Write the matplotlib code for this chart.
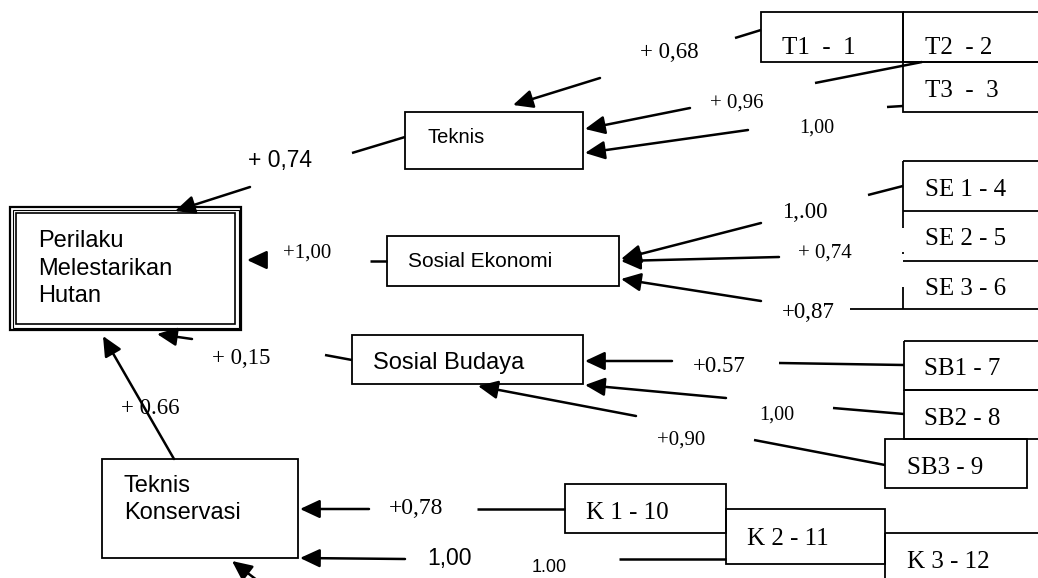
import matplotlib
matplotlib.use("Agg")
import matplotlib.pyplot as plt
from matplotlib.patches import Rectangle

SANS = "Liberation Sans"
SERIF = "Liberation Serif"

# ---- diagram text / values ----
main_lines = ["Perilaku", "Melestarikan", "Hutan"]
latent_names = ["Teknis", "Sosial Ekonomi", "Sosial Budaya", "Teknis\nKonservasi"]
latent_coefs = ["+ 0,74", "+1,00", "+ 0,15", "+ 0.66"]

teknis_items = ["T1  -  1", "T2  - 2", "T3  -  3"]
teknis_loads = ["+ 0,68", "+ 0,96", "1,00"]
sosek_items = ["SE 1 - 4", "SE 2 - 5", "SE 3 - 6"]
sosek_loads = ["1,.00", "+ 0,74", "+0,87"]
sosbud_items = ["SB1 - 7", "SB2 - 8", "SB3 - 9"]
sosbud_loads = ["+0.57", "1,00", "+0,90"]
konserv_items = ["K 1 - 10", "K 2 - 11", "K 3 - 12"]
konserv_loads = ["+0,78", "1,00", "1.00"]

# ---- layout (pixel coords, y down) ----
W, H = 1038, 578
RX = 1060  # boxes running off the right edge

latent_boxes = [(405, 112, 583, 169), (387, 236, 619, 286),
                (352, 335, 583, 384), (102, 459, 298, 558)]
latent_text = [(427, [143], 14.5), (408, [267], 15),
               (373, [369], 17), (124, [492, 519], 17)]
latent_links = [((352, 153), (405, 137)), ((370, 261), (387, 261)),
                ((325, 355), (352, 360)), None]
latent_arrows = [((250, 187), (175, 211)), ((262, 260), (247, 260)),
                 ((192, 339), (157, 334)), ((174, 459), (103, 336))]
latent_coef_pos = [(248, 160, SANS, 16.5), (283, 253, SERIF, 15),
                   (212, 359, SERIF, 16.5), (121, 408, SERIF, 16.5)]

item_boxes = {
    "teknis": [(761, 12, 903, 62), (903, 12, RX, 62), (903, 62, RX, 112)],
    "sosbud": [(904, 341, RX, 390), (904, 390, RX, 439), (885, 439, 1027, 488)],
    "konserv": [(565, 484, 726, 533), (726, 509, 885, 564), (885, 533, RX, 600)],
}
item_text = {
    "teknis": [(782, 54), (925, 54), (925, 97)],
    "sosek": [(925, 196), (925, 245), (925, 295)],
    "sosbud": [(924, 375), (924, 425), (907, 474)],
    "konserv": [(586, 519), (747, 545), (907, 568)],
}
links = {
    "teknis": [((735, 38), (761, 30)), ((815, 83), (922, 62)), ((887, 107), (903, 106))],
    "sosek": [((868, 195), (903, 186)), None, None],
    "sosbud": [((779, 363), (904, 365)), ((833, 408), (904, 414)), ((754, 440), (885, 465))],
    "konserv": [((477, 509), (565, 509)), ((619, 559), (726, 559)), None],
}
arrows = {
    "teknis": [((600, 78), (513, 105)), ((690, 108), (585, 129)), ((748, 130), (585, 153))],
    "sosek": [((761, 223), (621, 259)), ((779, 257), (621, 261)), ((761, 301), (621, 279))],
    "sosbud": [((672, 361), (585, 361)), ((726, 398), (585, 385)), ((636, 416), (478, 386))],
    "konserv": [((369, 509), (300, 509)), ((405, 559), (300, 558)), ((262, 584), (232, 561))],
}
load_pos = {
    "teknis": [(640, 53, SERIF, 16.5), (710, 103, SERIF, 15), (799, 128, SERIF, 14.5)],
    "sosek": [(782, 212, SERIF, 16.5), (798, 253, SERIF, 15), (782, 312, SERIF, 16.5)],
    "sosbud": [(693, 366, SERIF, 16.5), (759, 415, SERIF, 14.5), (657, 440, SERIF, 15)],
    "konserv": [(389, 509, SERIF, 17), (427, 559, SANS, 16.5), (532, 567, SANS, 13)],
}
items = {"teknis": teknis_items, "sosek": sosek_items,
         "sosbud": sosbud_items, "konserv": konserv_items}
loads = {"teknis": teknis_loads, "sosek": sosek_loads,
         "sosbud": sosbud_loads, "konserv": konserv_loads}

fig = plt.figure(figsize=(W / 100, H / 100), dpi=100)
ax = fig.add_axes([0, 0, 1, 1])
ax.set_xlim(0, W)
ax.set_ylim(H, 0)
ax.axis("off")


def box(b, lw=1.3):
    x0, y0, x1, y1 = b
    ax.add_patch(Rectangle((x0, y0), x1 - x0, y1 - y0, fill=False,
                           ec="k", lw=lw))


def seg(p, q, lw=1.8):
    ax.plot([p[0], q[0]], [p[1], q[1]], color="k", lw=lw,
            solid_capstyle="butt")


def arrow(p, tip):
    ax.annotate("", xy=tip, xytext=p,
                arrowprops=dict(arrowstyle="-|>,head_length=0.6,head_width=0.28",
                                color="k", lw=1.8, shrinkA=0, shrinkB=0,
                                mutation_scale=20))


# main construct, triple border
for inset, lw in [(0, 1.6), (2.5, 0.8), (6, 1.2)]:
    box((10 + inset, 207 + inset, 241 - inset, 330 - inset), lw=lw)
for line, yb in zip(main_lines, [247, 275, 302]):
    ax.text(38, yb, line, fontsize=17, family=SANS, va="baseline")

# latent constructs
for i, name in enumerate(latent_names):
    box(latent_boxes[i])
    x, ybs, fs = latent_text[i]
    for part, yb in zip(name.split("\n"), ybs):
        ax.text(x, yb, part, fontsize=fs, family=SANS, va="baseline")
    if latent_links[i]:
        seg(*latent_links[i])
    arrow(*latent_arrows[i])
    x, y, fam, fs = latent_coef_pos[i]
    ax.text(x, y, latent_coefs[i], fontsize=fs, family=fam, va="center")

# indicator boxes
for k, bl in item_boxes.items():
    for b in bl:
        box(b)
# sosial ekonomi stack: left edge has breaks
for y, x0 in [(161, 903), (211, 903), (261, 903), (309, 850)]:
    seg((x0, y), (RX, y), lw=1.3)
for y0, y1 in [(161, 228), (252, 254), (287, 309)]:
    seg((903, y0), (903, y1), lw=1.3)

for k in items:
    for j, lab in enumerate(items[k]):
        x, yb = item_text[k][j]
        ax.text(x, yb, lab, fontsize=18, family=SERIF, va="baseline")
        if links[k][j]:
            seg(*links[k][j])
        arrow(*arrows[k][j])
        x, y, fam, fs = load_pos[k][j]
        ax.text(x, y, loads[k][j], fontsize=fs, family=fam, va="center")

fig.savefig("out.png", dpi=100)
